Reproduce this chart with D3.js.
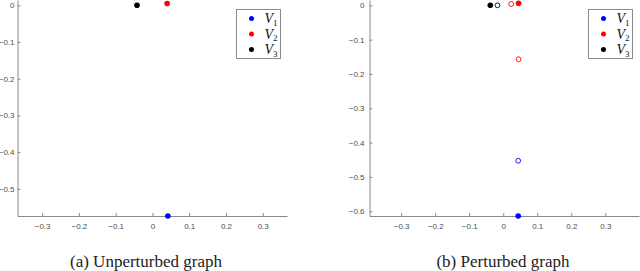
<!DOCTYPE html>
<html lang="en">
<head>
    <meta charset="UTF-8">
    <title>Spectral embedding</title>
    <style>
        body { margin: 0; background: #fff; }
        .axis text { font-family: "Liberation Sans", Arial, sans-serif; font-size: 8px; fill: #4d4d4d; }
        .axis path, .axis line { stroke: #8a8a8a; }
        .caption { font-family: "Liberation Serif", serif; font-size: 17px; fill: #222; }
        .legtext { font-family: "Liberation Serif", serif; font-style: italic; font-size: 14px; fill: #111; }
    </style>
</head>
<body>
    <script src="https://d3js.org/d3.v7.min.js"></script>
    <div id="container"></div>
    <script>
        // tick values
        var xTicks = [-0.3, -0.2, -0.1, 0, 0.1, 0.2, 0.3];
        var yTicksA = [0, -0.1, -0.2, -0.3, -0.4, -0.5];
        var yTicksB = [0, -0.1, -0.2, -0.3, -0.4, -0.5, -0.6];
        var seriesNames = ['V1', 'V2', 'V3'];
        var colors = ['#0000ff', '#ff0000', '#000000'];

        // (a) unperturbed: [x, y] per series
        var aV1 = [[0.042, -0.574]];
        var aV2 = [[0.040, 0.005]];
        var aV3 = [[-0.042, 0.0]];

        // (b) perturbed: filled = original, open = perturbed
        var bV1 = [[0.044, -0.614]];
        var bV2 = [[0.045, 0.006]];
        var bV3 = [[-0.038, 0.0]];
        var bV1open = [[0.044, -0.453]];
        var bV2open = [[0.0235, 0.004], [0.045, -0.157]];
        var bV3open = [[-0.017, 0.0]];

        var svg = d3.select('#container').append('svg')
            .attr('width', 640).attr('height', 271);

        var panels = [
            { left: 17.5, right: 287, top: 0, bottom: 216, xd: [-0.367, 0.366], yd: [-0.574, 0.0145],
              yTicks: yTicksA, filled: [aV1, aV2, aV3], open: [[], [], []], pad: 3,
              legend: { x: 236.5, y: 9.5, w: 44, h: 49 }, caption: '(a) Unperturbed graph', cx: 146 },
            { left: 369.5, right: 639, top: 0, bottom: 216, xd: [-0.393, 0.399], yd: [-0.614, 0.0155],
              yTicks: yTicksB, filled: [bV1, bV2, bV3], open: [bV1open, bV2open, bV3open], pad: 5,
              legend: { x: 588.5, y: 9.5, w: 44, h: 49 }, caption: '(b) Perturbed graph', cx: 503 }
        ];

        panels.forEach(function(p) {
            var x = d3.scaleLinear().domain(p.xd).range([p.left, p.right]);
            var y = d3.scaleLinear().domain(p.yd).range([p.bottom, p.top]);

            svg.append('g').attr('class', 'axis')
                .attr('transform', 'translate(0,' + p.bottom + ')')
                .call(d3.axisBottom(x).tickValues(xTicks).tickSizeInner(-3).tickSizeOuter(0).tickPadding(7)
                    .tickFormat(d3.format('')));
            svg.append('g').attr('class', 'axis')
                .attr('transform', 'translate(' + p.left + ',0)')
                .call(d3.axisLeft(y).tickValues(p.yTicks).tickSizeInner(-3).tickSizeOuter(0).tickPadding(p.pad)
                    .tickFormat(d3.format('')));

            var g = svg.append('g');
            p.open.forEach(function(pts, i) {
                g.selectAll(null).data(pts).enter().append('circle')
                    .attr('cx', function(d) { return x(d[0]); })
                    .attr('cy', function(d) { return y(d[1]); })
                    .attr('r', 2.4)
                    .attr('fill', 'none')
                    .attr('stroke', colors[i])
                    .attr('stroke-width', 0.9);
            });
            p.filled.forEach(function(pts, i) {
                g.selectAll(null).data(pts).enter().append('circle')
                    .attr('cx', function(d) { return x(d[0]); })
                    .attr('cy', function(d) { return y(d[1]); })
                    .attr('r', 2.8)
                    .attr('fill', colors[i]);
            });

            var lg = svg.append('g').attr('transform', 'translate(' + p.legend.x + ',' + p.legend.y + ')');
            lg.append('rect').attr('width', p.legend.w).attr('height', p.legend.h)
                .attr('fill', '#fff').attr('stroke', '#8a8a8a').attr('stroke-width', 1);
            seriesNames.forEach(function(n, i) {
                var ly = 9 + i * 15.5;
                lg.append('circle').attr('cx', 15).attr('cy', ly).attr('r', 2.5).attr('fill', colors[i]);
                var t = lg.append('text').attr('class', 'legtext').attr('x', 28).attr('y', ly + 4.5);
                t.append('tspan').text('V');
                t.append('tspan').attr('font-size', '9px').attr('font-style', 'normal').attr('dy', 2.5).text(n.slice(1));
            });

            svg.append('text').attr('class', 'caption')
                .attr('x', p.cx).attr('y', 267).attr('text-anchor', 'middle')
                .text(p.caption);
        });
    </script>
</body>
</html>
